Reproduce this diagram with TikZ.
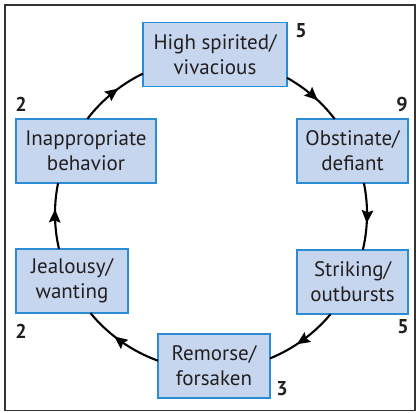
\documentclass[tikz,border=0pt]{standalone}
\usepackage{fontspec}
\setmainfont{PT Sans}
\usetikzlibrary{arrows.meta,decorations.markings}
\definecolor{boxfill}{HTML}{C6D6EF}
\definecolor{boxline}{HTML}{2A8CD4}
\definecolor{txt}{HTML}{231F20}
\definecolor{framecol}{HTML}{333333}
\begin{document}
\begin{tikzpicture}[x=1pt,y=1pt,
  stage/.style={draw=boxline, fill=boxfill, line width=1.1pt, minimum height=64pt,
    inner sep=0pt, outer sep=0pt, align=center,
    font=\fontsize{21}{25}\selectfont, text=txt},
  conn/.style={line width=2.1pt, looseness=0.865, postaction={decorate},
    decoration={markings, mark=at position 0.6 with
      {\arrow{Stealth[length=13pt,width=11.5pt,inset=2pt]}}}},
  count/.style={font=\fontsize{20}{20}\selectfont\bfseries, text=txt, inner sep=0pt}]
\useasboundingbox (0,0) rectangle (416,413);
\draw[line width=1.8pt, draw=framecol] (5,2.5) rectangle (415,408);

\node[stage, minimum width=144pt] (hs) at (215,358.5) {High spirited/\\vivacious};
\node[stage, minimum width=111pt] (ob) at (352.5,262) {Obstinate/\\defiant};
\node[stage, minimum width=111pt] (st) at (352.5,131) {Striking/\\outbursts};
\node[stage, minimum width=112pt] (re) at (214,47) {Remorse/\\forsaken};
\node[stage, minimum width=112pt] (je) at (72,132) {Jealousy/\\wanting};
\node[stage, minimum width=140pt] (in) at (86,262) {Inappropriate\\behavior};

\node[count] (n1) at (301,382) {5};
\node[count] (n2) at (402,308) {9};
\node[count] (n3) at (403,86) {5};
\node[count] (n4) at (282,24) {3};
\node[count] (n5) at (21,82) {2};
\node[count] (n6) at (21,309) {2};

\draw[conn] ([yshift=-23.3pt]hs.east) to[out=-29.2,in=127.5] ([xshift=-17.8pt]ob.north);
\draw[conn] ([xshift=11.4pt]ob.south) to[out=-78.5,in=76.7] ([xshift=10.3pt]st.north);
\draw[conn] ([xshift=-21.8pt]st.south) to[out=-129.9,in=22.2] ([yshift=7.6pt]re.east);
\draw[conn] ([yshift=5.3pt]re.west) to[out=160.1,in=-50.6] ([xshift=18.4pt]je.south);
\draw[conn] ([xshift=-13pt]je.north) to[out=103,in=-101.5] ([xshift=-27.9pt]in.south);
\draw[conn] ([xshift=1.3pt]in.north) to[out=52.5,in=205.8] ([yshift=-19.1pt]hs.west);
\end{tikzpicture}
\end{document}
